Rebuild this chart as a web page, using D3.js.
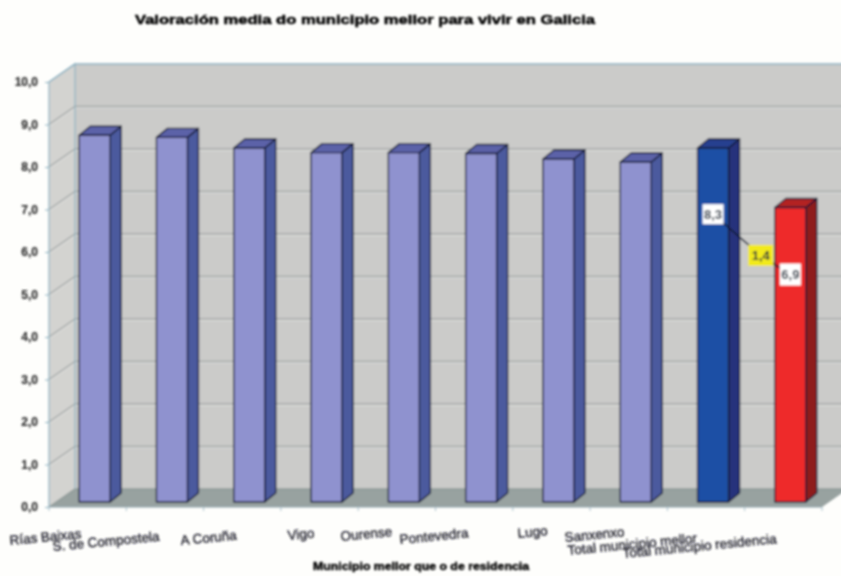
<!DOCTYPE html>
<html><head><meta charset="utf-8">
<script src="https://cdn.jsdelivr.net/npm/d3@7/dist/d3.min.js"></script>
<style>html,body{margin:0;padding:0;background:#fefefc}svg{display:block}text{font-family:"Liberation Sans",Arial,sans-serif}</style>
</head><body><svg id="c" width="841" height="576"></svg>
<script>
const categories=["Rías Baixas","S. de Compostela","A Coruña","Vigo","Ourense","Pontevedra","Lugo","Sanxenxo","Total municipio mellor","Total municipio residencia"];
const values=[8.63,8.58,8.33,8.22,8.22,8.2,8.07,8.0,8.33,6.93];
const yTicks=[0,1,2,3,4,5,6,7,8,9,10];
const barKinds=["m","m","m","m","m","m","m","m","b","r"];
const title="Valoración media do municipio mellor para vivir en Galicia";
const xTitle="Municipio mellor que o de residencia";
const calloutLabels=[{t:"8,3",bar:8,level:6.89,fill:"#fff"},{t:"6,9",bar:9,level:5.47,fill:"#fff"}];
const diffLabel={t:"1,4",level:5.92,fill:"#f2ea1c"};

const W=841,H=576;
const svg=d3.select("#c");
const defs=svg.append("defs");
defs.append("filter").attr("id","blur").attr("x","-5%").attr("y","-5%").attr("width","110%").attr("height","110%")
  .append("feGaussianBlur").attr("stdDeviation",0.85);
const g=svg.append("g").attr("filter","url(#blur)");

const left=49,right=822,yBase=507,yTop=82,dx=26,dy=18;
const y=d3.scaleLinear().domain([0,10]).range([yBase,yTop]);
const x=d3.scaleBand().domain(categories).range([left,right]);
const barBack=5, faceW=31, depthX=11, depthY=9, barShift=7;
const barLeft=i=>x(categories[i])+(x.bandwidth()-faceW)/2+barShift;
const colors={m:["#8f92cf","#4c5a9e","#5b62a8"],b:["#1c4fa5","#27337c","#27408f"],r:["#ee2a2c","#8e1a1c","#b32022"]};
const line=d3.line();

g.append("rect").attr("x",left+dx).attr("y",y(10)-dy).attr("width",W-left-dx+5).attr("height",yBase-yTop).attr("fill","#cbcbc9");
g.append("path").attr("d",line([[left,y(0)],[left,y(10)],[left+dx,y(10)-dy],[left+dx,y(0)-dy]])+"Z").attr("fill","#d3d3d0");
g.append("path").attr("d",line([[left,y(0)],[right,y(0)],[right+dx,y(0)-dy],[left+dx,y(0)-dy]])+"Z").attr("fill","#98a2a0");
yTicks.forEach(t=>{
  if(t>0&&t<10) g.append("path").attr("d",line([[left,y(t)+1.3],[left+dx,y(t)-dy+1.3],[W+5,y(t)-dy+1.3]])).attr("fill","none").attr("stroke","#e6e6e4").attr("stroke-width",1);
  g.append("path").attr("d",line([[left,y(t)],[left+dx,y(t)-dy],[W+5,y(t)-dy]])).attr("fill","none")
   .attr("stroke",t===0?"#8f9a98":(t===10?"#8fb3c2":"#a2a6a6")).attr("stroke-width",1.4);
});
g.append("path").attr("d",line([[left,y(0)],[left,y(10)],[left+dx,y(10)-dy],[left+dx,y(0)-dy]])).attr("fill","none").attr("stroke","#8fb3c2").attr("stroke-width",1.2);
g.append("path").attr("d",line([[left,y(0)],[right,y(0)]])).attr("stroke","#8fa6ad").attr("stroke-width",1.2);

const axisY=d3.axisLeft(y).tickValues(yTicks).tickSize(4).tickFormat(d=>d3.format(".1f")(d).replace(".",","));
const ay=g.append("g").attr("transform",`translate(${left},0)`).call(axisY);
ay.select(".domain").remove();
ay.selectAll("line").attr("stroke","#8fb3c2");
ay.selectAll("text").attr("fill","#333").attr("font-size",12).attr("font-weight","bold").attr("x",-11).attr("dy","0.32em").attr("stroke","#333").attr("stroke-width",0.2);

const tickXs=d3.range(categories.length+1).map(i=>left+i*x.step());
g.selectAll(".xt").data(tickXs).join("line").attr("x1",d=>d).attr("x2",d=>d).attr("y1",yBase).attr("y2",yBase+4).attr("stroke","#a9c0cc");

values.forEach((v,i)=>{
  const bx=barLeft(i), top=y(v)-barBack, bot=y(0)-barBack, c=colors[barKinds[i]];
  const s=g.append("g").attr("stroke","#141a35").attr("stroke-width",1.4).attr("stroke-linejoin","round");
  s.append("path").attr("d",line([[bx+faceW,top],[bx+faceW+depthX,top-depthY],[bx+faceW+depthX,bot-depthY],[bx+faceW,bot]])+"Z").attr("fill",c[1]);
  s.append("path").attr("d",line([[bx,top],[bx+depthX,top-depthY],[bx+faceW+depthX,top-depthY],[bx+faceW,top]])+"Z").attr("fill",c[2]);
  s.append("rect").attr("x",bx).attr("y",top).attr("width",faceW).attr("height",bot-top).attr("fill",c[0]);
});

const labelX=[10,53,181,288,341,400,518,565,568,623];
const labelY=[545,551,545,540,541,544,538,542,555,558];
categories.forEach((c,i)=>{
  g.append("text").text(c).attr("transform",`translate(${labelX[i]},${labelY[i]}) rotate(-5.5)`)
   .attr("font-size",13.5).attr("fill","#22222e").attr("stroke","#22222e").attr("stroke-width",0.35);
});

const cx=i=>barLeft(i)+faceW/2;
const midX=(cx(8)+cx(9))/2+9;
const pts=[[cx(8),y(calloutLabels[0].level)],[midX,y(diffLabel.level)],[cx(9),y(calloutLabels[1].level)]];
g.append("path").attr("d",line(pts)).attr("fill","none").attr("stroke","#101a30").attr("stroke-width",1.5);
const box=(t,px,py,w,h,fill)=>{
  g.append("rect").attr("x",px-w/2).attr("y",py-h/2).attr("width",w).attr("height",h).attr("fill",fill);
  g.append("text").text(t).attr("x",px).attr("y",py+4.5).attr("text-anchor","middle").attr("font-size",13).attr("font-weight","bold").attr("fill","#1c2a3a");
};
box(calloutLabels[0].t,pts[0][0],pts[0][1],21,20,calloutLabels[0].fill);
box(diffLabel.t,pts[1][0],pts[1][1],25,21,diffLabel.fill);
box(calloutLabels[1].t,pts[2][0],pts[2][1],21,22,calloutLabels[1].fill);

g.append("text").text(title).attr("x",135).attr("y",24).attr("textLength",460).attr("lengthAdjust","spacingAndGlyphs").attr("font-size",13).attr("font-weight","bold").attr("fill","#000").attr("stroke","#000").attr("stroke-width",0.5);
g.append("text").text(xTitle).attr("x",313).attr("y",570).attr("textLength",216).attr("lengthAdjust","spacingAndGlyphs").attr("font-size",11).attr("font-weight","bold").attr("fill","#000").attr("stroke","#000").attr("stroke-width",0.4);
</script></body></html>
